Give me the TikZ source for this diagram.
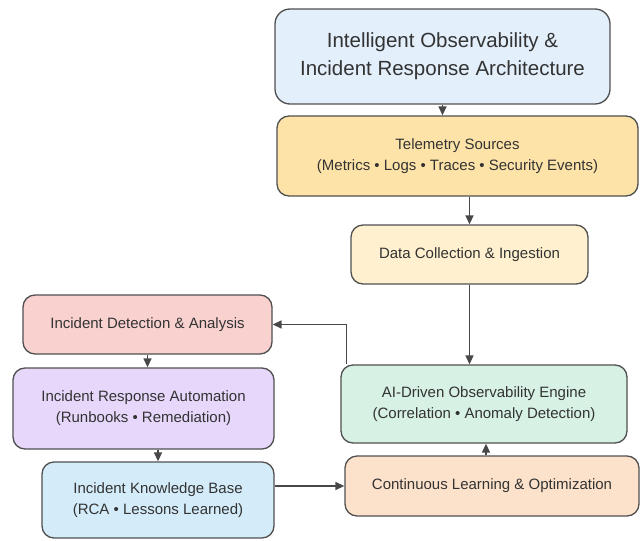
\documentclass[tikz,border=0pt]{standalone}
\usepackage{fontspec}
\setmainfont{Liberation Sans}
\usetikzlibrary{arrows.meta}

\definecolor{titlefill}{HTML}{E3EFFB}
\definecolor{telemfill}{HTML}{FDE3A8}
\definecolor{datafill}{HTML}{FFF1CF}
\definecolor{enginefill}{HTML}{D7F1E4}
\definecolor{learnfill}{HTML}{FDE2CB}
\definecolor{detectfill}{HTML}{F9D1CF}
\definecolor{autofill}{HTML}{E7D7FB}
\definecolor{kbfill}{HTML}{D4ECFA}
\definecolor{edge}{HTML}{505050}
\definecolor{ink}{HTML}{333333}

\begin{document}
\begin{tikzpicture}
        [x=1pt,y=-1pt,
         box/.style={draw=edge,line width=1.3pt,rounded corners=12pt,inner sep=0,align=center,
                     text=ink,font=\fontsize{15}{21}\selectfont},
         arr/.style={draw=edge!90!black,line width=1.4pt,-{Triangle[length=9pt,width=8pt]}}]

        \useasboundingbox (0,0) rectangle (644,540);

        \node[box,fill=titlefill,minimum width=335pt,minimum height=95pt,rounded corners=15pt,
              font=\fontsize{20.5}{28}\selectfont] (title) at (442.5,56.5)
              {Intelligent Observability \&\\Incident Response Architecture};
        \node[box,fill=telemfill,minimum width=361pt,minimum height=80pt] (telem) at (457.5,156)
              {Telemetry Sources\\(Metrics • Logs • Traces • Security Events)};
        \node[box,fill=datafill,minimum width=237pt,minimum height=59pt] (data) at (469.5,254.5)
              {Data Collection \& Ingestion};
        \node[box,fill=enginefill,minimum width=286pt,minimum height=78pt] (engine) at (484,404)
              {AI-Driven Observability Engine\\(Correlation • Anomaly Detection)};
        \node[box,fill=learnfill,minimum width=294pt,minimum height=60pt] (learn) at (492,486)
              {Continuous Learning \& Optimization};
        \node[box,fill=detectfill,minimum width=249pt,minimum height=59pt] (detect) at (147.5,324.5)
              {Incident Detection \& Analysis};
        \node[box,fill=autofill,minimum width=261pt,minimum height=81pt] (auto) at (143.5,408.5)
              {Incident Response Automation\\(Runbooks • Remediation)};
        \node[box,fill=kbfill,minimum width=232pt,minimum height=76pt] (kb) at (158,500)
              {Incident Knowledge Base\\(RCA • Lessons Learned)};

        \draw[arr] (title.south) -- (title.south |- telem.north);
        \draw[arr] (data.north |- telem.south) -- (data.north);
        \draw[arr] (data.south) -- (data.south |- engine.north);
        \draw[arr] ([xshift=2pt]learn.north -| engine.south) -- ([xshift=2pt]engine.south);
        \draw[arr] ([xshift=6pt]engine.north west) |- (detect.east);
        \draw[arr] (detect.south) -- (detect.south |- auto.north);
        \draw[arr] (kb.north |- auto.south) -- (kb.north);
        \draw[arr] (learn.west -| kb.east) -- (learn.west);
      \end{tikzpicture}
\end{document}
